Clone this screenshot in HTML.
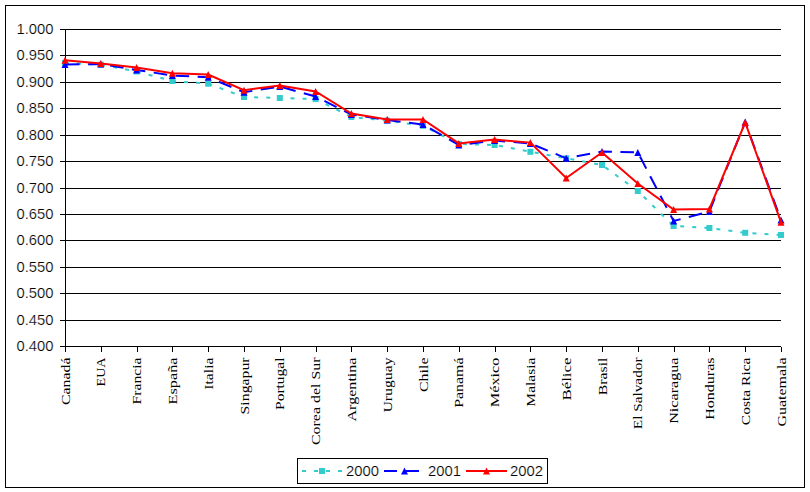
<!DOCTYPE html><html><head><meta charset="utf-8"><style>html,body{margin:0;padding:0;background:#fff;}svg{display:block;}</style></head><body>
<svg width="810" height="492" viewBox="0 0 810 492">
<rect x="0" y="0" width="810" height="492" fill="#fff"/>
<rect x="5.5" y="5.5" width="799" height="482" fill="none" stroke="#000" stroke-width="1"/>
<path d="M60 29.5H781 M60 55.5H781 M60 82.5H781 M60 108.5H781 M60 135.5H781 M60 161.5H781 M60 188.5H781 M60 214.5H781 M60 240.5H781 M60 267.5H781 M60 293.5H781 M60 320.5H781 M60 346.5H781" stroke="#000" stroke-width="1" fill="none" shape-rendering="crispEdges"/>
<path d="M65.5 29V352" stroke="#000" stroke-width="1" fill="none" shape-rendering="crispEdges"/>
<path d="M65.5 347V352 M101.5 347V352 M137.5 347V352 M172.5 347V352 M208.5 347V352 M244.5 347V352 M280.5 347V352 M316.5 347V352 M351.5 347V352 M387.5 347V352 M423.5 347V352 M459.5 347V352 M495.5 347V352 M530.5 347V352 M566.5 347V352 M602.5 347V352 M638.5 347V352 M674.5 347V352 M709.5 347V352 M745.5 347V352 M781.5 347V352" stroke="#000" stroke-width="1" fill="none" shape-rendering="crispEdges"/>
<g font-family="Liberation Sans, sans-serif" font-size="14" fill="#000" stroke="#fff" stroke-width="0.2" text-anchor="end">
<text x="53.5" y="34" textLength="37" lengthAdjust="spacingAndGlyphs">1.000</text>
<text x="53.5" y="60" textLength="37" lengthAdjust="spacingAndGlyphs">0.950</text>
<text x="53.5" y="87" textLength="37" lengthAdjust="spacingAndGlyphs">0.900</text>
<text x="53.5" y="113" textLength="37" lengthAdjust="spacingAndGlyphs">0.850</text>
<text x="53.5" y="140" textLength="37" lengthAdjust="spacingAndGlyphs">0.800</text>
<text x="53.5" y="166" textLength="37" lengthAdjust="spacingAndGlyphs">0.750</text>
<text x="53.5" y="193" textLength="37" lengthAdjust="spacingAndGlyphs">0.700</text>
<text x="53.5" y="219" textLength="37" lengthAdjust="spacingAndGlyphs">0.650</text>
<text x="53.5" y="245" textLength="37" lengthAdjust="spacingAndGlyphs">0.600</text>
<text x="53.5" y="272" textLength="37" lengthAdjust="spacingAndGlyphs">0.550</text>
<text x="53.5" y="298" textLength="37" lengthAdjust="spacingAndGlyphs">0.500</text>
<text x="53.5" y="325" textLength="37" lengthAdjust="spacingAndGlyphs">0.450</text>
<text x="53.5" y="351" textLength="37" lengthAdjust="spacingAndGlyphs">0.400</text>
</g>
<g font-family="Liberation Serif, serif" font-size="13.5" fill="#000">
<text transform="translate(69.5 357.5) rotate(-90)" text-anchor="end" textLength="47.5" lengthAdjust="spacingAndGlyphs">Canadá</text>
<text transform="translate(105.3 357.5) rotate(-90)" text-anchor="end" textLength="28.9" lengthAdjust="spacingAndGlyphs">EUA</text>
<text transform="translate(141.1 357.5) rotate(-90)" text-anchor="end" textLength="47.0" lengthAdjust="spacingAndGlyphs">Francia</text>
<text transform="translate(176.9 357.5) rotate(-90)" text-anchor="end" textLength="46.9" lengthAdjust="spacingAndGlyphs">España</text>
<text transform="translate(212.7 357.5) rotate(-90)" text-anchor="end" textLength="32.3" lengthAdjust="spacingAndGlyphs">Italia</text>
<text transform="translate(248.5 357.5) rotate(-90)" text-anchor="end" textLength="56.9" lengthAdjust="spacingAndGlyphs">Singapur</text>
<text transform="translate(284.3 357.5) rotate(-90)" text-anchor="end" textLength="52.5" lengthAdjust="spacingAndGlyphs">Portugal</text>
<text transform="translate(320.1 357.5) rotate(-90)" text-anchor="end" textLength="87.5" lengthAdjust="spacingAndGlyphs">Corea del Sur</text>
<text transform="translate(355.9 357.5) rotate(-90)" text-anchor="end" textLength="64.0" lengthAdjust="spacingAndGlyphs">Argentina</text>
<text transform="translate(391.7 357.5) rotate(-90)" text-anchor="end" textLength="55.0" lengthAdjust="spacingAndGlyphs">Uruguay</text>
<text transform="translate(427.5 357.5) rotate(-90)" text-anchor="end" textLength="34.5" lengthAdjust="spacingAndGlyphs">Chile</text>
<text transform="translate(463.3 357.5) rotate(-90)" text-anchor="end" textLength="50.3" lengthAdjust="spacingAndGlyphs">Panamá</text>
<text transform="translate(499.1 357.5) rotate(-90)" text-anchor="end" textLength="49.8" lengthAdjust="spacingAndGlyphs">México</text>
<text transform="translate(534.9 357.5) rotate(-90)" text-anchor="end" textLength="49.2" lengthAdjust="spacingAndGlyphs">Malasia</text>
<text transform="translate(570.7 357.5) rotate(-90)" text-anchor="end" textLength="43.1" lengthAdjust="spacingAndGlyphs">Bélice</text>
<text transform="translate(606.5 357.5) rotate(-90)" text-anchor="end" textLength="37.8" lengthAdjust="spacingAndGlyphs">Brasil</text>
<text transform="translate(642.3 357.5) rotate(-90)" text-anchor="end" textLength="71.7" lengthAdjust="spacingAndGlyphs">El Salvador</text>
<text transform="translate(678.1 357.5) rotate(-90)" text-anchor="end" textLength="66.3" lengthAdjust="spacingAndGlyphs">Nicaragua</text>
<text transform="translate(713.9 357.5) rotate(-90)" text-anchor="end" textLength="62.3" lengthAdjust="spacingAndGlyphs">Honduras</text>
<text transform="translate(749.7 357.5) rotate(-90)" text-anchor="end" textLength="67.7" lengthAdjust="spacingAndGlyphs">Costa Rica</text>
<text transform="translate(785.5 357.5) rotate(-90)" text-anchor="end" textLength="69.0" lengthAdjust="spacingAndGlyphs">Guatemala</text>
</g>
<polyline points="65.00,63.00 100.80,64.70 136.60,71.50 172.40,81.00 208.20,83.70 244.00,97.00 279.80,98.00 315.60,99.00 351.40,117.00 387.20,120.60 423.00,125.80 458.80,144.00 494.60,145.00 530.40,151.80 566.20,158.30 602.00,165.00 637.80,191.00 673.60,226.00 709.40,228.00 745.20,232.80 781.00,235.00" fill="none" stroke="#33CCCC" stroke-width="2" stroke-dasharray="4 8.1" stroke-dashoffset="0"/>
<rect x="62.00" y="60.00" width="6" height="6" fill="#33CCCC"/>
<rect x="97.80" y="61.70" width="6" height="6" fill="#33CCCC"/>
<rect x="133.60" y="68.50" width="6" height="6" fill="#33CCCC"/>
<rect x="169.40" y="78.00" width="6" height="6" fill="#33CCCC"/>
<rect x="205.20" y="80.70" width="6" height="6" fill="#33CCCC"/>
<rect x="241.00" y="94.00" width="6" height="6" fill="#33CCCC"/>
<rect x="276.80" y="95.00" width="6" height="6" fill="#33CCCC"/>
<rect x="312.60" y="96.00" width="6" height="6" fill="#33CCCC"/>
<rect x="348.40" y="114.00" width="6" height="6" fill="#33CCCC"/>
<rect x="384.20" y="117.60" width="6" height="6" fill="#33CCCC"/>
<rect x="420.00" y="122.80" width="6" height="6" fill="#33CCCC"/>
<rect x="455.80" y="141.00" width="6" height="6" fill="#33CCCC"/>
<rect x="491.60" y="142.00" width="6" height="6" fill="#33CCCC"/>
<rect x="527.40" y="148.80" width="6" height="6" fill="#33CCCC"/>
<rect x="563.20" y="155.30" width="6" height="6" fill="#33CCCC"/>
<rect x="599.00" y="162.00" width="6" height="6" fill="#33CCCC"/>
<rect x="634.80" y="188.00" width="6" height="6" fill="#33CCCC"/>
<rect x="670.60" y="223.00" width="6" height="6" fill="#33CCCC"/>
<rect x="706.40" y="225.00" width="6" height="6" fill="#33CCCC"/>
<rect x="742.20" y="229.80" width="6" height="6" fill="#33CCCC"/>
<rect x="778.00" y="232.00" width="6" height="6" fill="#33CCCC"/>
<polyline points="65.00,64.40 100.80,64.00 136.60,70.00 172.40,75.50 208.20,77.30 244.00,92.20 279.80,86.50 315.60,96.50 351.40,114.50 387.20,120.00 423.00,124.50 458.80,145.00 494.60,140.50 530.40,143.50 566.20,158.30 602.00,151.50 637.80,152.40 673.60,221.00 709.40,211.50 745.20,122.00 781.00,220.00" fill="none" stroke="#0000FF" stroke-width="2" stroke-dasharray="13.6 8.5" stroke-dashoffset="21.10"/>
<path d="M65.00 60.90L68.50 67.90H61.50Z" fill="#0000FF"/>
<path d="M100.80 60.50L104.30 67.50H97.30Z" fill="#0000FF"/>
<path d="M136.60 66.50L140.10 73.50H133.10Z" fill="#0000FF"/>
<path d="M172.40 72.00L175.90 79.00H168.90Z" fill="#0000FF"/>
<path d="M208.20 73.80L211.70 80.80H204.70Z" fill="#0000FF"/>
<path d="M244.00 88.70L247.50 95.70H240.50Z" fill="#0000FF"/>
<path d="M279.80 83.00L283.30 90.00H276.30Z" fill="#0000FF"/>
<path d="M315.60 93.00L319.10 100.00H312.10Z" fill="#0000FF"/>
<path d="M351.40 111.00L354.90 118.00H347.90Z" fill="#0000FF"/>
<path d="M387.20 116.50L390.70 123.50H383.70Z" fill="#0000FF"/>
<path d="M423.00 121.00L426.50 128.00H419.50Z" fill="#0000FF"/>
<path d="M458.80 141.50L462.30 148.50H455.30Z" fill="#0000FF"/>
<path d="M494.60 137.00L498.10 144.00H491.10Z" fill="#0000FF"/>
<path d="M530.40 140.00L533.90 147.00H526.90Z" fill="#0000FF"/>
<path d="M566.20 154.80L569.70 161.80H562.70Z" fill="#0000FF"/>
<path d="M602.00 148.00L605.50 155.00H598.50Z" fill="#0000FF"/>
<path d="M637.80 148.90L641.30 155.90H634.30Z" fill="#0000FF"/>
<path d="M673.60 217.50L677.10 224.50H670.10Z" fill="#0000FF"/>
<path d="M709.40 208.00L712.90 215.00H705.90Z" fill="#0000FF"/>
<path d="M745.20 118.50L748.70 125.50H741.70Z" fill="#0000FF"/>
<path d="M781.00 216.50L784.50 223.50H777.50Z" fill="#0000FF"/>
<polyline points="65.00,60.30 100.80,63.50 136.60,67.50 172.40,73.30 208.20,74.50 244.00,90.20 279.80,85.40 315.60,91.40 351.40,113.60 387.20,119.50 423.00,119.40 458.80,143.40 494.60,139.60 530.40,142.60 566.20,178.00 602.00,152.50 637.80,183.50 673.60,209.50 709.40,209.00 745.20,122.50 781.00,222.20" fill="none" stroke="#FF0000" stroke-width="2"/>
<path d="M65.00 56.80L68.50 63.80H61.50Z" fill="#FF0000"/>
<path d="M100.80 60.00L104.30 67.00H97.30Z" fill="#FF0000"/>
<path d="M136.60 64.00L140.10 71.00H133.10Z" fill="#FF0000"/>
<path d="M172.40 69.80L175.90 76.80H168.90Z" fill="#FF0000"/>
<path d="M208.20 71.00L211.70 78.00H204.70Z" fill="#FF0000"/>
<path d="M244.00 86.70L247.50 93.70H240.50Z" fill="#FF0000"/>
<path d="M279.80 81.90L283.30 88.90H276.30Z" fill="#FF0000"/>
<path d="M315.60 87.90L319.10 94.90H312.10Z" fill="#FF0000"/>
<path d="M351.40 110.10L354.90 117.10H347.90Z" fill="#FF0000"/>
<path d="M387.20 116.00L390.70 123.00H383.70Z" fill="#FF0000"/>
<path d="M423.00 115.90L426.50 122.90H419.50Z" fill="#FF0000"/>
<path d="M458.80 139.90L462.30 146.90H455.30Z" fill="#FF0000"/>
<path d="M494.60 136.10L498.10 143.10H491.10Z" fill="#FF0000"/>
<path d="M530.40 139.10L533.90 146.10H526.90Z" fill="#FF0000"/>
<path d="M566.20 174.50L569.70 181.50H562.70Z" fill="#FF0000"/>
<path d="M602.00 149.00L605.50 156.00H598.50Z" fill="#FF0000"/>
<path d="M637.80 180.00L641.30 187.00H634.30Z" fill="#FF0000"/>
<path d="M673.60 206.00L677.10 213.00H670.10Z" fill="#FF0000"/>
<path d="M709.40 205.50L712.90 212.50H705.90Z" fill="#FF0000"/>
<path d="M745.20 119.00L748.70 126.00H741.70Z" fill="#FF0000"/>
<path d="M781.00 218.70L784.50 225.70H777.50Z" fill="#FF0000"/>
<rect x="297.5" y="458.5" width="250" height="25" fill="#fff" stroke="#000" stroke-width="1"/>
<path d="M302 471H342" stroke="#33CCCC" stroke-width="2" stroke-dasharray="4 8"/>
<rect x="319" y="468" width="6" height="6" fill="#33CCCC"/>
<path d="M384 471H424" stroke="#0000FF" stroke-width="2" stroke-dasharray="13 9"/>
<path d="M404.50 467.50L408.00 474.50H401.00Z" fill="#0000FF"/>
<path d="M466 471H507" stroke="#FF0000" stroke-width="2"/>
<path d="M486.50 467.50L490.00 474.50H483.00Z" fill="#FF0000"/>
<g font-family="Liberation Sans, sans-serif" font-size="14" fill="#000" stroke="#fff" stroke-width="0.2">
<text x="346" y="476" textLength="33" lengthAdjust="spacingAndGlyphs">2000</text>
<text x="428" y="476" textLength="33" lengthAdjust="spacingAndGlyphs">2001</text>
<text x="510" y="476" textLength="33" lengthAdjust="spacingAndGlyphs">2002</text>
</g>
</svg></body></html>
